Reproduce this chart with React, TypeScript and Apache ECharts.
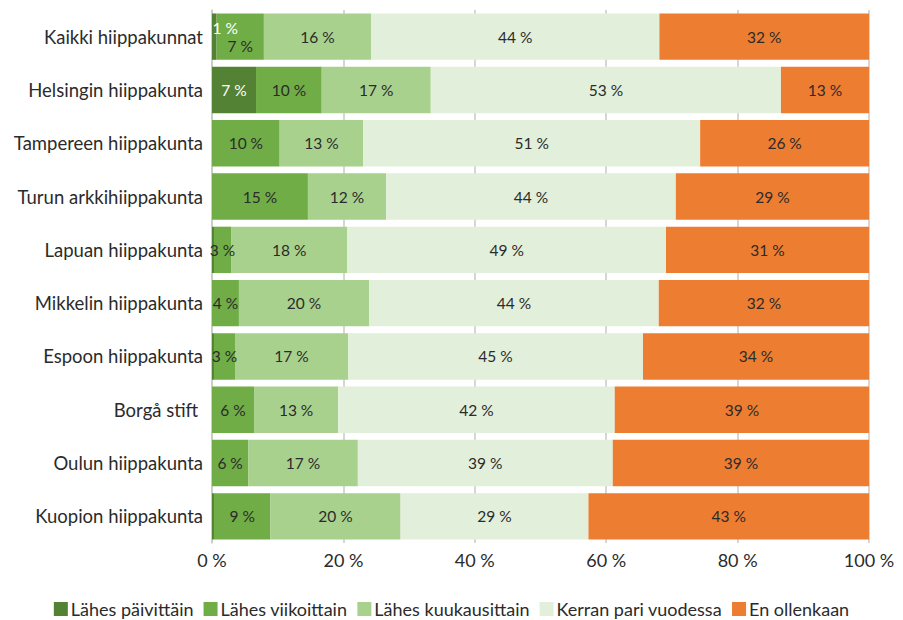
import React, { useEffect, useRef } from "react";
import * as echarts from "echarts";

const categories = [
  "Kaikki hiippakunnat",
  "Helsingin hiippakunta",
  "Tampereen hiippakunta",
  "Turun arkkihiippakunta",
  "Lapuan hiippakunta",
  "Mikkelin hiippakunta",
  "Espoon hiippakunta",
  "Borgå stift ",
  "Oulun hiippakunta",
  "Kuopion hiippakunta",
];

const seriesNames = [
  "Lähes päivittäin",
  "Lähes viikoittain",
  "Lähes kuukausittain",
  "Kerran pari vuodessa",
  "En ollenkaan",
];

const daily = [0.7, 6.7, 0, 0, 0.3, 0, 0.3, 0, 0, 0.3];
const weekly = [7.2, 10.0, 10.3, 14.6, 2.6, 4.1, 3.2, 6.4, 5.5, 8.6];
const monthly = [16.3, 16.6, 12.7, 11.9, 17.7, 19.8, 17.2, 12.8, 16.7, 19.8];
const yearly = [43.9, 53.3, 51.3, 44.1, 48.5, 44.1, 44.9, 42.1, 38.8, 28.6];
const never = [31.9, 13.4, 25.7, 29.4, 30.9, 32.0, 34.4, 38.7, 39.0, 42.7];

const xTicks = { min: 0, max: 100, interval: 20 };

const colors = ["#548235", "#70AD47", "#A9D18E", "#E2EFDA", "#ED7D31"];
const labelColors = ["#ffffff", "#2b2b2b", "#2b2b2b", "#2b2b2b", "#2b2b2b"];
const FONT = "Lato";

export default function App() {
  const ref = useRef<HTMLDivElement>(null);
  useEffect(() => {
    if (!ref.current) return;
    const chart = echarts.init(ref.current, undefined, { renderer: "svg" });
    const allData = [daily, weekly, monthly, yearly, never];
    const series = allData.map((arr, si) => ({
      name: seriesNames[si],
      type: "bar",
      stack: "total",
      barCategoryGap: "13%",
      itemStyle: { color: colors[si] },
      label: {
        show: true,
        position: "inside",
        color: labelColors[si],
        fontFamily: FONT,
        fontSize: 15.5,
        formatter: (p: any) => {
          const v = p.value;
          return v >= 0.5 ? Math.round(v) + " %" : "";
        },
      },
      data: arr.map((v, i) => {
        if (i === 0 && si === 0) {
          return { value: v, label: { offset: [11, -9] } };
        }
        if (i === 0 && si === 1) {
          return { value: v, label: { offset: [0, 9] } };
        }
        return v;
      }),
    }));
    chart.setOption({
      animation: false,
      textStyle: { fontFamily: FONT },
      grid: { left: 212, right: 34, top: 10, bottom: 77, containLabel: false },
      legend: {
        data: seriesNames,
        top: 600,
        padding: 0,
        left: "center",
        icon: "rect",
        itemWidth: 14,
        itemHeight: 14,
        itemGap: 10,
        textStyle: { fontSize: 18, color: "#2b2b2b", fontFamily: FONT, padding: [0, 0, 0, -2] },
      },
      xAxis: {
        type: "value",
        min: xTicks.min,
        max: xTicks.max,
        interval: xTicks.interval,
        axisLabel: {
          formatter: "{value} %",
          fontSize: 18,
          color: "#2b2b2b",
          fontFamily: FONT,
          margin: 8,
        },
        axisLine: { show: false },
        axisTick: { show: false },
        splitLine: { show: true, lineStyle: { color: "#c8c8c8", width: 1.5 } },
      },
      yAxis: {
        type: "category",
        data: categories,
        inverse: true,
        axisLine: { show: true, lineStyle: { color: "#c8c8c8", width: 1.5 } },
        axisTick: { show: false },
        axisLabel: { fontSize: 18.5, color: "#2b2b2b", fontFamily: FONT, margin: 9 },
      },
      series,
    });
    return () => chart.dispose();
  }, []);
  return <div ref={ref} style={{ width: 903, height: 620, position: "absolute", left: 0, top: 0 }} />;
}
